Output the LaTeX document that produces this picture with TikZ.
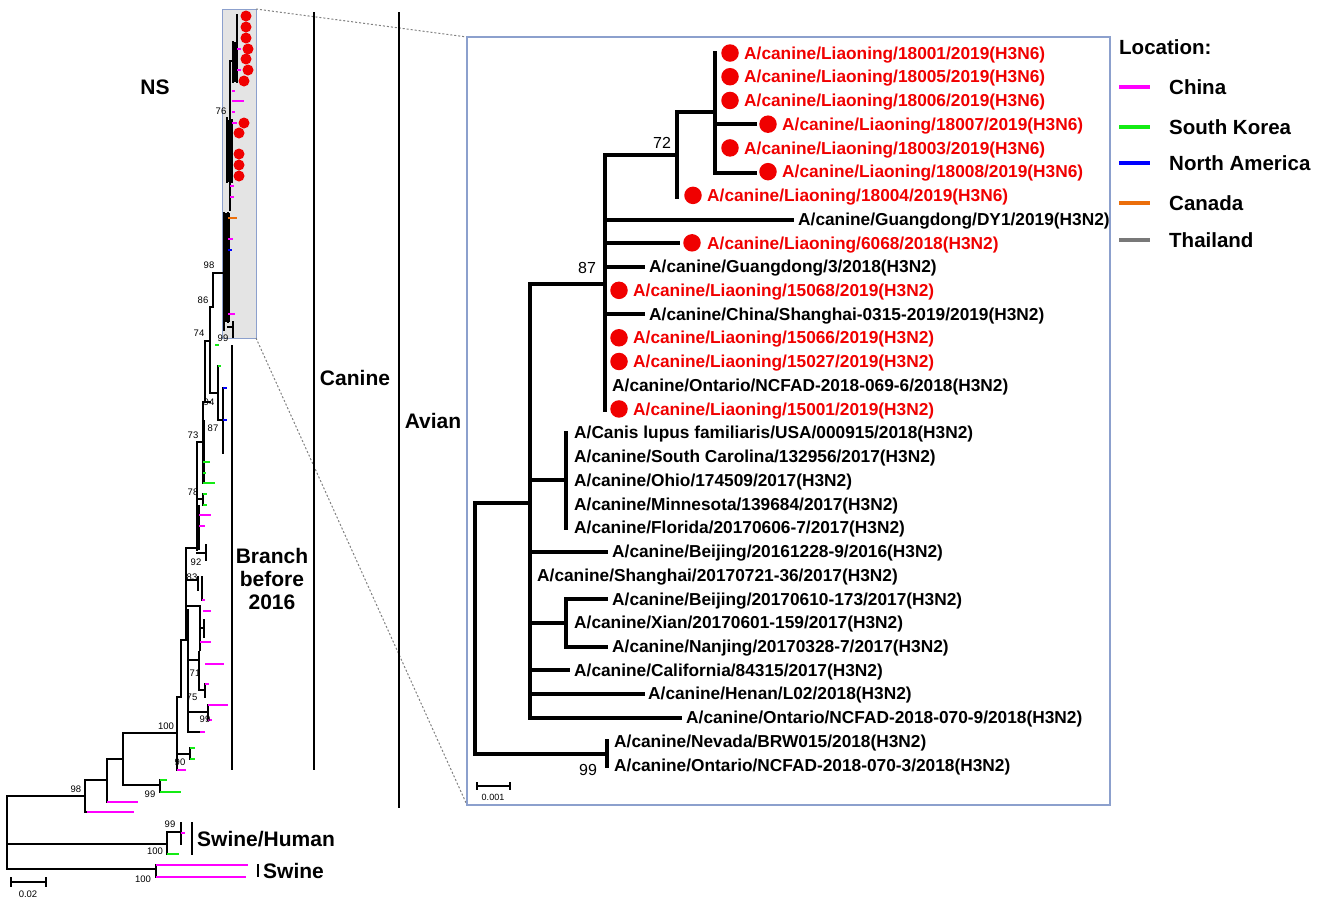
\documentclass[tikz,border=0pt]{standalone}
\usepackage{fontspec}
\setmainfont{Liberation Sans}
\definecolor{cmag}{RGB}{255,0,255}
\definecolor{cgrn}{RGB}{20,235,20}
\definecolor{cblu}{RGB}{0,0,255}
\definecolor{corg}{RGB}{235,110,10}
\definecolor{cgry}{RGB}{120,120,120}
\definecolor{cred}{RGB}{240,0,0}
\definecolor{boxb}{RGB}{140,160,205}
\definecolor{boxf}{RGB}{228,228,228}
\tikzset{
  ib/.style={line width=3.4pt, line cap=rect},
  lt/.style={line width=2.8pt, line cap=rect},
  tip/.style={line width=2.6pt},
  rdot/.style={circle, fill=cred, inner sep=0pt, minimum size=17.5pt},
  sdot/.style={circle, fill=cred, inner sep=0pt, minimum size=11pt},
  rl/.style={anchor=base west, inner sep=0pt, text=cred, font=\fontsize{17.3}{20}\selectfont\bfseries},
  bl/.style={anchor=base west, inner sep=0pt, font=\fontsize{17.3}{20}\selectfont\bfseries},
  bs/.style={inner sep=0pt, font=\fontsize{16}{19}\selectfont},
  sm/.style={inner sep=0pt, font=\fontsize{9.5}{11}\selectfont},
  big/.style={inner sep=0pt, font=\fontsize{21}{25}\selectfont\bfseries, align=center},
  leg/.style={anchor=base west, inner sep=0pt, font=\fontsize{20.5}{24}\selectfont\bfseries},
  legl/.style={line width=3.5pt},
  bar/.style={line width=2pt},
}
\begin{document}
\begin{tikzpicture}[x=1pt,y=-1pt]
\useasboundingbox (0,0) rectangle (1325,903);
% ---------------- zoom box and dashed links
\draw[boxb, fill=boxf, line width=1pt] (222,9) rectangle (256,338);
\coordinate (zb1) at (256,9); \coordinate (zb2) at (256,338);
\coordinate (ib1) at (467,37); \coordinate (ib2) at (467,805);
\draw[gray, line width=1pt, dash pattern=on 2pt off 2pt] (zb1) -- (ib1);
\draw[gray, line width=1pt, dash pattern=on 2pt off 2pt] (zb2) -- (ib2);
\draw[boxb, line width=1.2pt] (467,37) rectangle (1110,805);
% ---------------- left tree
\fill (232,42) rectangle (238,82);
\fill (226,120) rectangle (233,182);
\fill (222.5,213) rectangle (230,322);
\fill (196,505) rectangle (200,550);
\fill (202,420) rectangle (205,483);
\begin{scope}[lt]
\draw (237,15)--(237,82); \draw (233,42)--(233,82); \draw (230,61)--(237,61);
\draw (230,61)--(230,120); \draw (227,118)--(227,182); \draw (232,120)--(232,182);
\draw (230,170)--(230,210); \draw (224,213)--(224,330); \draw (228,213)--(228,322);
\draw (213,273)--(224,273); \draw (213,273)--(213,307); \draw (210,307)--(213,307);
\draw (228,327)--(233,327); \draw (233,322)--(233,337);
\draw (210,307)--(210,393); \draw (205,341)--(210,341); \draw (205,341)--(205,402);
\draw (210,393)--(218,393); \draw (218,366)--(218,420); \draw (218,420)--(223,420);
\draw (223,388)--(223,453);
\draw (203,402)--(210,402); \draw (203,402)--(203,483);
\draw (197,442)--(203,442); \draw (197,442)--(197,550);
\draw (197,499)--(203,499); \draw (203,494)--(203,505);
\draw (197,553)--(206,553); \draw (206,545)--(206,560);
\draw (186,548)--(197,548); \draw (186,548)--(186,640);
\draw (186,580)--(198,580); \draw (198,577)--(198,590); \draw (202,577)--(202,600);
\draw (186,606)--(200,606); \draw (200,606)--(200,650); \draw (200,628)--(204,628); \draw (204,620)--(204,637);
\draw (181,640)--(186,640); \draw (181,640)--(181,697);
\draw (188,610)--(188,732); \draw (188,660)--(199,660); \draw (199,652)--(199,690);
\draw (199,690)--(205,690); \draw (205,684)--(205,697);
\draw (188,712)--(208,712); \draw (208,705)--(208,720);
\draw (188,732)--(200,732);
\draw (177,697)--(181,697); \draw (177,697)--(177,770);
\draw (177,754)--(190,754); \draw (190,748)--(190,759);
\draw (123,733)--(177,733);
\draw (123,733)--(123,785); \draw (123,785)--(160,785); \draw (160,780)--(160,792);
\draw (107,759)--(123,759); \draw (107,759)--(107,802);
\draw (85,780)--(107,780); \draw (85,780)--(85,812); \draw (85,812)--(87,812);
\draw (7,796)--(85,796); \draw (7,796)--(7,869);
\draw (7,844)--(167,844); \draw (167,832)--(167,854); \draw (167,832)--(181,832); \draw (181,823)--(181,844);
\draw (7,869)--(156,869); \draw (156,865)--(156,877);
\end{scope}
% tips
\begin{scope}[tip]
\draw[cmag] (237,70)--(241,70); \draw[cmag] (237,49)--(241,49);
\draw[cmag] (232,91)--(235,91); \draw[cmag] (232,101)--(244,101); \draw[cmag] (232,112)--(235,112); \draw[cmag] (232,123)--(237,123);
\draw[cmag] (230,186)--(234,186); \draw[cmag] (230,197)--(234,197);
\draw[corg] (228,218)--(237,218);
\draw[cmag] (228,239)--(233,239); \draw[cblu] (228,250)--(232,250); \draw[cmag] (228,314)--(235,314);
\draw[cgrn] (215,345)--(219,345);
\draw[cgrn] (218,366)--(221,366); \draw[cblu] (223,388)--(227,388); \draw[cblu] (223,420)--(227,420);
\draw[cgrn] (203,462)--(210,462); \draw[cgrn] (203,473)--(206,473); \draw[cgrn] (203,483)--(215,483);
\draw[cgrn] (203,494)--(207,494); \draw[cgrn] (203,505)--(207,505);
\draw[cmag] (199,515)--(211,515); \draw[cmag] (199,526)--(205,526);
\draw[cmag] (202,600)--(205,600); \draw[cmag] (203,611)--(211,611); \draw[cmag] (200,642)--(211,642);
\draw[cmag] (205,664)--(224,664); \draw[cmag] (205,684)--(209,684);
\draw[cmag] (208,705)--(228,705); \draw[cmag] (208,720)--(212,720);
\draw[cmag] (200,732)--(205,732);
\draw[cmag] (177,770)--(186,770);
\draw[cgrn] (190,748)--(195,748); \draw[cgrn] (190,759)--(195,759);
\draw[cgrn] (160,780)--(167,780); \draw[cgrn] (160,792)--(181,792);
\draw[cmag] (107,802)--(138,802); \draw[cmag] (87,812)--(134,812);
\draw[cmag] (181,833)--(185,833); \draw[cgrn] (167,854)--(179,854);
\draw[cmag] (156,865)--(248,865); \draw[cmag] (156,877)--(246,877);
\end{scope}
% small red dots
\foreach \x/\y in {246/16,246/27,246/38,248/49,246/59,248/70,244/81,244/123,239/133,239/154,239/165,239/176}
  \node[sdot] at (\x,\y) {};
% bootstrap values left
\node[sm] at (221,111) {76};
\node[sm] at (209,265) {98};
\node[sm] at (203,300) {86};
\node[sm] at (199,333) {74};
\node[sm] at (223,338) {99};
\node[sm] at (209,402) {94};
\node[sm] at (213,428) {87};
\node[sm] at (193,435) {73};
\node[sm] at (193,492) {78};
\node[sm] at (196,562) {92};
\node[sm] at (192,577) {83};
\node[sm] at (195,673) {71};
\node[sm] at (192,697) {75};
\node[sm] at (205,719) {99};
\node[sm] at (166,726) {100};
\node[sm] at (180,762) {90};
\node[sm] at (150,794) {99};
\node[sm] at (76,789) {98};
\node[sm] at (170,824) {99};
\node[sm] at (155,851) {100};
\node[sm] at (143,879) {100};
% left scale bar
\draw[bar] (11,882)--(46,882); \draw[bar] (11,877)--(11,887); \draw[bar] (46,877)--(46,887);
\node[sm] (s1) at (28,894) {0.02};
% group labels
\node[big] (ns) at (155,87) {NS};
\draw[line width=2pt] (314,12)--(314,770);
\node[big] (canine) at (355,378) {Canine};
\draw[line width=2pt] (399,12)--(399,808);
\node[big] (avian) at (433,421) {Avian};
\draw[line width=2pt] (232,345)--(232,770);
\node[big, align=center] (branch) at (272,579) {Branch\\[-2pt]before\\[-2pt]2016};
\draw[line width=2pt] (192,822)--(192,855);
\node[big, anchor=west] (sh) at (197,839) {Swine/Human};
\draw[line width=2pt] (258,864)--(258,877);
\node[big, anchor=west] (sw) at (263,871) {Swine};
% ---------------- inset tree
\begin{scope}[ib]
\draw (475,503)--(475,754); \draw (475,503)--(530,503);
\draw (475,754)--(607,754); \draw (607,741)--(607,766);
\draw (530,284)--(530,718); \draw (530,284)--(605,284);
\draw (530,480)--(566,480); \draw (566,433)--(566,528);
\draw (530,552)--(606,552);
\draw (530,623)--(566,623); \draw (566,599)--(566,647); \draw (566,599)--(606,599); \draw (566,647)--(606,647);
\draw (530,670)--(568,670); \draw (530,694)--(643,694); \draw (530,718)--(680,718);
\draw (605,155)--(605,410); \draw (605,155)--(677,155);
\draw (605,220)--(792,220); \draw (605,243)--(678,243);
\draw (605,267)--(643,267); \draw (605,314)--(643,314);
\draw (677,112)--(677,197); \draw (677,112)--(715,112);
\draw (715,53)--(715,173); \draw (715,124)--(755,124); \draw (715,173)--(755,173);
\end{scope}
\node[bs] at (662,143) {72};
\node[bs] at (587,268) {87};
\node[bs] at (588,770) {99};
% leaves
\foreach \x/\r in {730/1,730/2,730/3,768/4,730/5,768/6,693/7,692/9,619/11,619/13,619/14,619/16}
  \node[rdot] at (\x,{53+(\r-1)*23.73}) {};
\node[rl] at (744,{53+0*23.73+6.2}) {A/canine/Liaoning/18001/2019(H3N6)};
\node[rl] at (744,{53+1*23.73+6.2}) {A/canine/Liaoning/18005/2019(H3N6)};
\node[rl] at (744,{53+2*23.73+6.2}) {A/canine/Liaoning/18006/2019(H3N6)};
\node[rl] at (782,{53+3*23.73+6.2}) {A/canine/Liaoning/18007/2019(H3N6)};
\node[rl] at (744,{53+4*23.73+6.2}) {A/canine/Liaoning/18003/2019(H3N6)};
\node[rl] at (782,{53+5*23.73+6.2}) {A/canine/Liaoning/18008/2019(H3N6)};
\node[rl] at (707,{53+6*23.73+6.2}) {A/canine/Liaoning/18004/2019(H3N6)};
\node[bl] at (798,{53+7*23.73+6.2}) {A/canine/Guangdong/DY1/2019(H3N2)};
\node[rl] at (707,{53+8*23.73+6.2}) {A/canine/Liaoning/6068/2018(H3N2)};
\node[bl] at (649,{53+9*23.73+6.2}) {A/canine/Guangdong/3/2018(H3N2)};
\node[rl] at (633,{53+10*23.73+6.2}) {A/canine/Liaoning/15068/2019(H3N2)};
\node[bl] at (649,{53+11*23.73+6.2}) {A/canine/China/Shanghai-0315-2019/2019(H3N2)};
\node[rl] at (633,{53+12*23.73+6.2}) {A/canine/Liaoning/15066/2019(H3N2)};
\node[rl] at (633,{53+13*23.73+6.2}) {A/canine/Liaoning/15027/2019(H3N2)};
\node[bl] at (612,{53+14*23.73+6.2}) {A/canine/Ontario/NCFAD-2018-069-6/2018(H3N2)};
\node[rl] at (633,{53+15*23.73+6.2}) {A/canine/Liaoning/15001/2019(H3N2)};
\node[bl] at (574,{53+16*23.73+6.2}) {A/Canis lupus familiaris/USA/000915/2018(H3N2)};
\node[bl] at (574,{53+17*23.73+6.2}) {A/canine/South Carolina/132956/2017(H3N2)};
\node[bl] at (574,{53+18*23.73+6.2}) {A/canine/Ohio/174509/2017(H3N2)};
\node[bl] at (574,{53+19*23.73+6.2}) {A/canine/Minnesota/139684/2017(H3N2)};
\node[bl] at (574,{53+20*23.73+6.2}) {A/canine/Florida/20170606-7/2017(H3N2)};
\node[bl] at (612,{53+21*23.73+6.2}) {A/canine/Beijing/20161228-9/2016(H3N2)};
\node[bl] at (537,{53+22*23.73+6.2}) {A/canine/Shanghai/20170721-36/2017(H3N2)};
\node[bl] at (612,{53+23*23.73+6.2}) {A/canine/Beijing/20170610-173/2017(H3N2)};
\node[bl] at (574,{53+24*23.73+6.2}) {A/canine/Xian/20170601-159/2017(H3N2)};
\node[bl] at (612,{53+25*23.73+6.2}) {A/canine/Nanjing/20170328-7/2017(H3N2)};
\node[bl] at (574,{53+26*23.73+6.2}) {A/canine/California/84315/2017(H3N2)};
\node[bl] at (648,{53+27*23.73+6.2}) {A/canine/Henan/L02/2018(H3N2)};
\node[bl] at (686,{53+28*23.73+6.2}) {A/canine/Ontario/NCFAD-2018-070-9/2018(H3N2)};
\node[bl] at (614,{53+29*23.73+6.2}) {A/canine/Nevada/BRW015/2018(H3N2)};
\node[bl] at (614,{53+30*23.73+6.2}) {A/canine/Ontario/NCFAD-2018-070-3/2018(H3N2)};
% inset scale bar
\draw[line width=1.5pt] (477,786)--(510,786); \draw[line width=1.5pt] (477,782)--(477,790); \draw[line width=1.5pt] (510,782)--(510,790);
\node[inner sep=0pt, font=\fontsize{9}{10}\selectfont] (s2) at (493,797) {0.001};
% ---------------- legend
\node[leg] (loc) at (1119,54) {Location:};
\draw[legl, cmag] (1119,87)--(1150,87);  \node[leg] at (1169,94) {China};
\draw[legl, cgrn] (1119,127)--(1150,127); \node[leg] at (1169,134) {South Korea};
\draw[legl, cblu] (1119,163)--(1150,163); \node[leg] at (1169,170) {North America};
\draw[legl, corg] (1119,203)--(1150,203); \node[leg] at (1169,210) {Canada};
\draw[legl, cgry] (1119,240)--(1150,240); \node[leg] at (1169,247) {Thailand};
\end{tikzpicture}
\end{document}
